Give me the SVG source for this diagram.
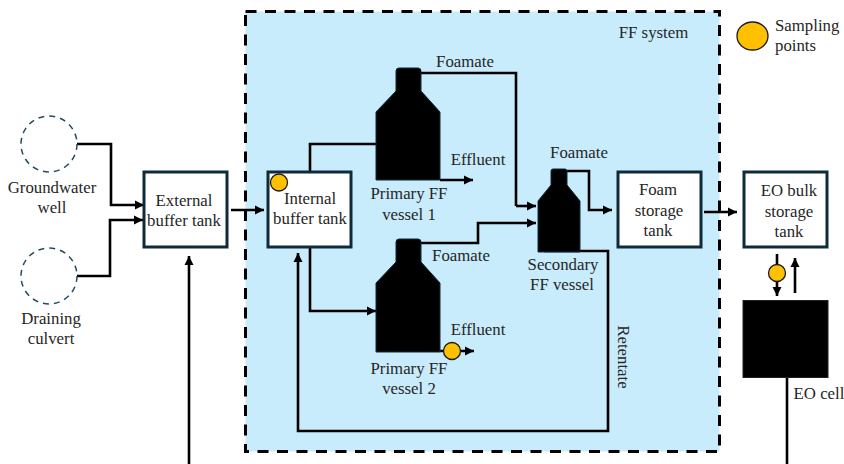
<svg xmlns="http://www.w3.org/2000/svg" width="844" height="464" viewBox="0 0 844 464">
<style>
text{font-family:"Liberation Serif","Times New Roman",serif;font-size:16.800px;fill:#262626;text-anchor:middle}
.box{fill:#fff;stroke:#0e2a3b;stroke-width:3}
.well{fill:#fff;stroke:#264a5e;stroke-width:1.5;stroke-dasharray:6 5}
.vessel{fill:#000;stroke:#0e2a3b;stroke-width:1;stroke-linejoin:round}
.dot{fill:#ffc000;stroke:#1a1a1a;stroke-width:1.3}
.c{fill:none;stroke:#000;stroke-width:2.6}
.a{marker-end:url(#ah)}
</style>
<defs>
<marker id="ah" markerUnits="userSpaceOnUse" markerWidth="10" markerHeight="10" refX="9" refY="5" orient="auto"><path d="M0 0.5L9 5L0 9.500Z" fill="#000"/></marker>
</defs>
<g id="ff-system">
<rect x="245.500" y="11.500" width="474" height="440" fill="#c9ecfd" stroke="#000" stroke-width="3" stroke-dasharray="11 8.500"/>
<text x="653.500" y="38">FF system</text>
</g>
<g id="connectors">
<path class="c a" d="M77 144H111V205H144"/>
<path class="c a" d="M77 276H110V220H143"/>
<path class="c a" d="M231 210H264"/>
<path class="c a" d="M189 464V256"/>
<path class="c a" d="M310 172V144H376" style="marker-end:none"/>
<path class="c a" d="M310 247V311H376"/>
<path class="c" d="M421 73H516V206"/>
<path class="c a" d="M516 206H536"/>
<path class="c a" d="M421 243H478V223H536"/>
<path class="c a" d="M440 180H473"/>
<path class="c a" d="M440 351H474"/>
<path class="c a" d="M567 171H589V210H612"/>
<path class="c a" d="M544 251H608V431H298V253"/>
<path class="c a" d="M704 212H737"/>
<path class="c a" d="M777 254V296"/>
<path class="c a" d="M795 293V258"/>
<path class="c" d="M787 377V464"/>
</g>
<g id="groundwater-well"><circle class="well" cx="49" cy="144" r="28"/><text x="52" y="193">Groundwater</text><text x="52" y="213">well</text></g>
<g id="draining-culvert"><circle class="well" cx="49" cy="276" r="28"/><text x="51" y="324">Draining</text><text x="51" y="344">culvert</text></g>
<g id="external-buffer-tank"><rect class="box" x="144" y="172" width="83" height="75"/><text x="184" y="206">External</text><text x="184" y="226">buffer tank</text></g>
<g id="internal-buffer-tank"><rect class="box" x="268" y="172" width="83" height="75"/><text x="310" y="204">Internal</text><text x="310" y="224">buffer tank</text><circle class="dot" cx="279" cy="182.500" r="8.500"/></g>
<g id="primary-ff-vessel-1"><path class="vessel" d="M399 68H418Q421 68 421 71V91L440 112V180H376V112L396 91V71Q396 68 399 68Z"/><text x="478" y="165">Effluent</text><text x="409" y="199">Primary FF</text><text x="409" y="220">vessel 1</text><text x="465" y="67">Foamate</text></g>
<g id="primary-ff-vessel-2"><path class="vessel" d="M399 239H418Q421 239 421 242V262L440 283V352H376V283L396 262V242Q396 239 399 239Z"/><text x="461" y="261">Foamate</text><text x="478" y="335">Effluent</text><text x="409" y="374">Primary FF</text><text x="409" y="394">vessel 2</text><circle class="dot" cx="452" cy="351" r="8.500"/></g>
<g id="secondary-ff-vessel"><path class="vessel" d="M553 169H565Q567 169 567 171V185L580 201V252H538V201L551 185V171Q551 169 553 169Z"/><text x="579" y="158">Foamate</text><text x="563" y="270">Secondary</text><text x="562" y="290">FF vessel</text></g>
<g id="retentate"><text transform="translate(618 357) rotate(90)">Retentate</text></g>
<g id="foam-storage-tank"><rect class="box" x="618" y="172" width="83" height="75"/><text x="658" y="195">Foam</text><text x="659" y="216">storage</text><text x="658" y="236">tank</text></g>
<g id="eo-bulk-storage-tank"><rect class="box" x="744" y="172" width="83" height="75"/><text x="789" y="196">EO bulk</text><text x="789" y="217">storage</text><text x="789" y="237">tank</text><circle class="dot" cx="777" cy="273" r="8.500"/></g>
<g id="eo-cell"><rect x="743" y="300.500" width="85" height="77" fill="#000" stroke="#222" stroke-width="1"/><text x="819" y="399">EO cell</text></g>
<g id="legend"><ellipse class="dot" cx="752.500" cy="36" rx="15.500" ry="14"/><text x="775" y="31" style="text-anchor:start">Sampling</text><text x="775" y="51" style="text-anchor:start">points</text></g>
</svg>
